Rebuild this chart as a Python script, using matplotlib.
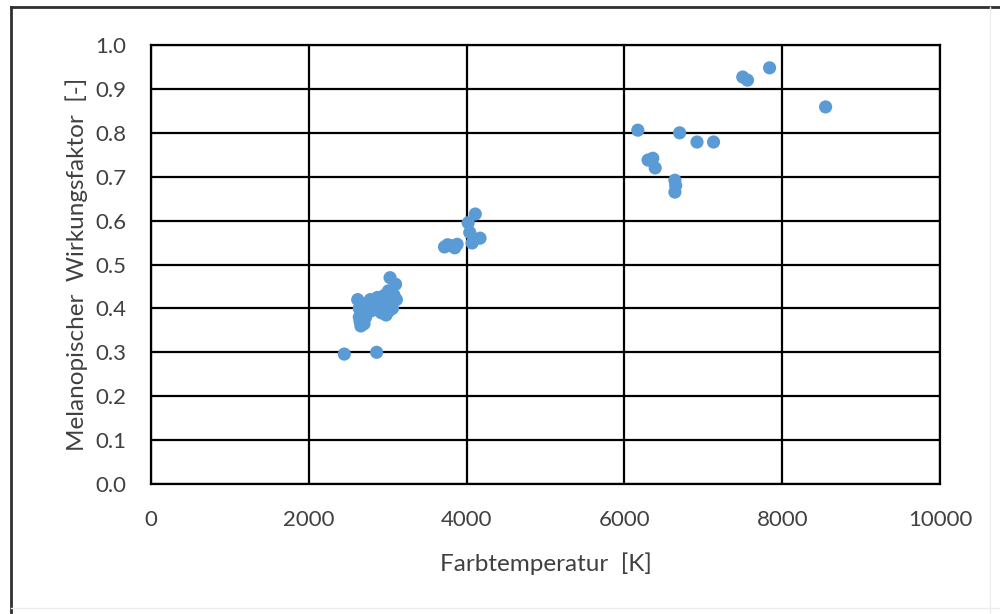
import numpy as np
import matplotlib.pyplot as plt
from matplotlib.lines import Line2D

# colour temperature [K] and melanopic factor [-]
cct = [2450, 2860,
       2620, 2640, 2650, 2660, 2680, 2700, 2720, 2750, 2780, 2800,
       2830, 2850, 2870, 2900, 2920, 2950, 2960, 2980, 3000, 3010,
       3030, 3050, 3060, 3080, 3100, 3110, 2640, 2700, 2900, 3020,
       3720, 3760, 3800, 3850, 3880, 4020, 4040, 4070, 4110, 4170,
       6170, 6300, 6360, 6390, 6640, 6650, 6640, 6700, 6920, 7130,
       7500, 7560, 7840, 8550]
mel = [0.296, 0.300,
       0.420, 0.400, 0.370, 0.360, 0.390, 0.410, 0.380, 0.400, 0.420, 0.395,
       0.410, 0.400, 0.425, 0.410, 0.390, 0.400, 0.430, 0.385, 0.410, 0.440,
       0.470, 0.420, 0.400, 0.430, 0.455, 0.420, 0.380, 0.365, 0.420, 0.395,
       0.540, 0.545, 0.543, 0.538, 0.546, 0.595, 0.573, 0.549, 0.615, 0.560,
       0.806, 0.738, 0.742, 0.720, 0.692, 0.680, 0.665, 0.800, 0.779, 0.779,
       0.927, 0.920, 0.948, 0.859]

xticks = [0, 2000, 4000, 6000, 8000, 10000]
yticks = np.round(np.arange(0, 1.01, 0.1), 1)

plt.rcParams['font.family'] = ['Lato', 'DejaVu Sans']

fig = plt.figure(figsize=(10, 6.14), dpi=100)
ax = fig.add_axes([0.151, 0.2117, 0.789, 0.7150])

ax.scatter(cct, mel, s=90, color='#5B9BD5', edgecolors='none', zorder=3)

ax.set_xlim(0, 10000)
ax.set_ylim(0, 1.0)
ax.set_xticks(xticks)
ax.set_yticks(yticks)
ax.set_yticklabels(['%.1f' % v for v in yticks])
ax.grid(True, color='black', linewidth=1.6)
ax.set_axisbelow(True)
for s in ax.spines.values():
    s.set_linewidth(1.6)
    s.set_color('black')
ax.tick_params(length=0, labelsize=16, colors='#404040')
ax.tick_params(axis='x', pad=19)
ax.tick_params(axis='y', pad=18)

ax.set_xlabel('Farbtemperatur  [K]', fontsize=17.5, color='#404040', labelpad=16)
ax.set_ylabel('Melanopischer  Wirkungsfaktor  [-]', fontsize=17.5, color='#404040', labelpad=5)

# outer frame of the chart (cropped on the right and bottom)
fig.add_artist(Line2D([11/1000, 1.0], [1 - 7/614, 1 - 7/614], color='#303030', lw=2))
fig.add_artist(Line2D([11/1000, 11/1000], [0, 1 - 7/614], color='#303030', lw=2))
fig.add_artist(Line2D([990/1000, 990/1000], [0, 1 - 7/614], color='#eeeeee', lw=1))
fig.add_artist(Line2D([11/1000, 1.0], [1 - 608/614, 1 - 608/614], color='#eeeeee', lw=1))

fig.savefig('out.png', dpi=100)
